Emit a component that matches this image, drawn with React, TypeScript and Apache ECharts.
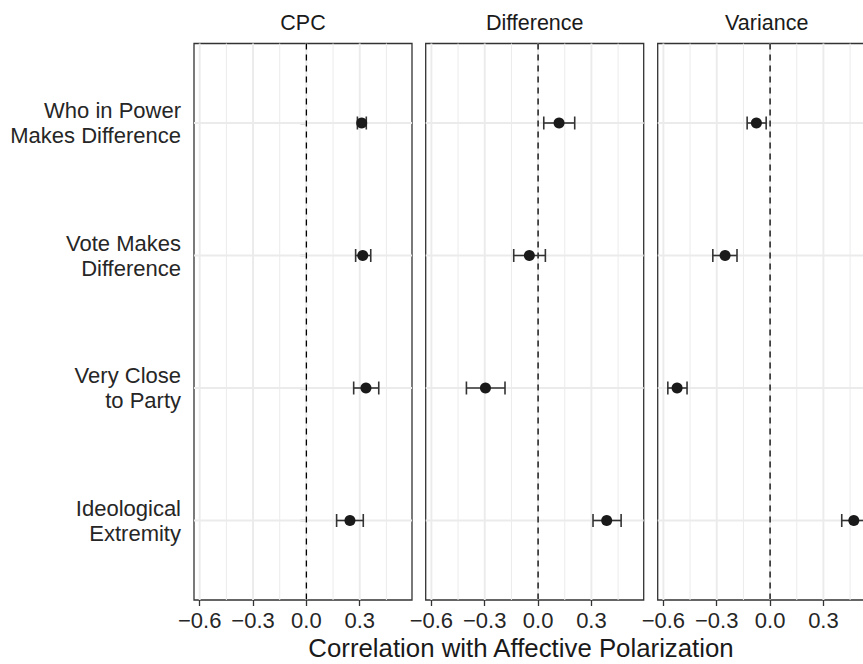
import React, { useEffect, useRef } from "react";
import * as echarts from "echarts";

// ---- data ----
const panels = ["CPC", "Difference", "Variance"];
const categories = [
  "Who in Power\nMakes Difference",
  "Vote Makes\nDifference",
  "Very Close\nto Party",
  "Ideological\nExtremity",
];
const categoryPos = [1, 2, 3, 4];

const cpcEst = [0.311, 0.317, 0.335, 0.245];
const cpcLow = [0.287, 0.277, 0.266, 0.17];
const cpcHigh = [0.337, 0.362, 0.407, 0.32];

const diffEst = [0.118, -0.049, -0.296, 0.386];
const diffLow = [0.032, -0.137, -0.403, 0.309];
const diffHigh = [0.206, 0.041, -0.186, 0.467];

const varEst = [-0.077, -0.253, -0.523, 0.471];
const varLow = [-0.129, -0.322, -0.575, 0.403];
const varHigh = [-0.022, -0.186, -0.467, 0.539];

const xTicks = [-0.6, -0.3, 0, 0.3];
const majorGrid = [-0.6, -0.3, 0, 0.3];
const minorGrid = [-0.45, -0.15, 0.15, 0.45];
const refLine = [0];

const xTitle = "Correlation with Affective Polarization";

const panelData = [
  { est: cpcEst, low: cpcLow, high: cpcHigh },
  { est: diffEst, low: diffLow, high: diffHigh },
  { est: varEst, low: varLow, high: varHigh },
];

// ---- layout ----
const X_MIN = -0.632;
const X_MAX = 0.594;
const Y_MIN = 0.4;
const Y_MAX = 4.6;
const panelLefts = [194, 425.7, 657.7];
const PANEL_W = 218;
const PANEL_TOP = 43.5;
const PANEL_H = 556.5;
const FONT = "'Liberation Sans', Arial, Helvetica, sans-serif";

const fmt = (v: number) => {
  const s = Math.abs(v).toFixed(1);
  return v < -1e-9 ? "\u2212" + s : s;
};

export default function App() {
  const ref = useRef<HTMLDivElement>(null);

  useEffect(() => {
    document.body.style.margin = "0";
    if (!ref.current) return;
    const chart = echarts.init(ref.current, undefined, { renderer: "svg" });

    const grids: any[] = [];
    const xAxes: any[] = [];
    const yAxes: any[] = [];
    const series: any[] = [];
    const graphics: any[] = [];

    panels.forEach((name, i) => {
      grids.push({
        left: panelLefts[i],
        top: PANEL_TOP,
        width: PANEL_W,
        height: PANEL_H,
        containLabel: false,
        outerBoundsMode: "none",
        show: true,
        backgroundColor: "#ffffff",
        borderColor: "#333333",
        borderWidth: 1.3,
      });
      xAxes.push({
        type: "value",
        gridIndex: i,
        min: X_MIN,
        max: X_MAX,
        axisLine: { show: false },
        splitLine: { show: false },
        axisTick: {
          show: true,
          customValues: xTicks,
          length: 6,
          lineStyle: { color: "#333333", width: 1.3 },
        },
        axisLabel: {
          show: true,
          customValues: xTicks,
          formatter: (v: number) => fmt(v),
          margin: 9,
          fontSize: 22,
          fontFamily: FONT,
          color: "#262626",
        },
      });
      yAxes.push({
        type: "value",
        gridIndex: i,
        min: Y_MIN,
        max: Y_MAX,
        inverse: true,
        axisLine: { show: false },
        splitLine: { show: false },
        axisTick: {
          show: i === 0,
          customValues: categoryPos,
          length: 6,
          lineStyle: { color: "#333333", width: 1.3 },
        },
        axisLabel: {
          show: i === 0,
          customValues: categoryPos,
          formatter: (v: number) => categories[Math.round(v) - 1] ?? "",
          margin: 13,
          fontSize: 22,
          lineHeight: 25,
          align: "right",
          fontFamily: FONT,
          color: "#262626",
        },
      });

      const vLine = (width: number, color: string, dash?: number[]) =>
        (params: any, api: any) => {
          const v = api.value(0);
          const a = api.coord([v, Y_MIN]);
          const b = api.coord([v, Y_MAX]);
          return {
            type: "line",
            shape: { x1: a[0], y1: a[1], x2: b[0], y2: b[1] },
            style: { stroke: color, lineWidth: width, lineDash: dash },
          };
        };

      series.push({
        type: "custom",
        name: "minorGrid" + i,
        xAxisIndex: i,
        yAxisIndex: i,
        z: 1,
        silent: true,
        clip: false,
        renderItem: vLine(1, "#ebebeb"),
        data: minorGrid.map((v) => [v, 2.5]),
      });
      series.push({
        type: "custom",
        name: "majorGrid" + i,
        xAxisIndex: i,
        yAxisIndex: i,
        z: 1,
        silent: true,
        clip: false,
        renderItem: vLine(1.9, "#ebebeb"),
        data: majorGrid.map((v) => [v, 2.5]),
      });
      series.push({
        type: "custom",
        name: "hGrid" + i,
        xAxisIndex: i,
        yAxisIndex: i,
        z: 1,
        silent: true,
        clip: false,
        renderItem: (params: any, api: any) => {
          const y = api.value(1);
          const a = api.coord([X_MIN, y]);
          const b = api.coord([X_MAX, y]);
          return {
            type: "line",
            shape: { x1: a[0], y1: a[1], x2: b[0], y2: b[1] },
            style: { stroke: "#ebebeb", lineWidth: 1.9 },
          };
        },
        data: categoryPos.map((c) => [0, c]),
      });
      series.push({
        type: "custom",
        name: "zero" + i,
        xAxisIndex: i,
        yAxisIndex: i,
        z: 2,
        silent: true,
        clip: false,
        renderItem: vLine(1.3, "#000000", [6, 5]),
        data: refLine.map((v) => [v, 2.5]),
      });

      const d = panelData[i];
      series.push({
        type: "custom",
        name: "ci" + i,
        xAxisIndex: i,
        yAxisIndex: i,
        z: 3,
        silent: true,
        encode: { x: [0, 2], y: 1 },
        renderItem: (params: any, api: any) => {
          const lo = api.value(0);
          const y = api.value(1);
          const hi = api.value(2);
          const p1 = api.coord([lo, y]);
          const p2 = api.coord([hi, y]);
          const h = 6.5;
          const st = { stroke: "#333333", lineWidth: 1.6 };
          return {
            type: "group",
            children: [
              { type: "line", shape: { x1: p1[0], y1: p1[1], x2: p2[0], y2: p2[1] }, style: st },
              { type: "line", shape: { x1: p1[0], y1: p1[1] - h, x2: p1[0], y2: p1[1] + h }, style: st },
              { type: "line", shape: { x1: p2[0], y1: p2[1] - h, x2: p2[0], y2: p2[1] + h }, style: st },
            ],
          };
        },
        data: categoryPos.map((c, k) => [d.low[k], c, d.high[k]]),
      });
      series.push({
        type: "scatter",
        name: "est" + i,
        xAxisIndex: i,
        yAxisIndex: i,
        z: 4,
        silent: true,
        symbol: "circle",
        symbolSize: 11,
        itemStyle: { color: "#1a1a1a", opacity: 1 },
        data: categoryPos.map((c, k) => [d.est[k], c]),
      });

      graphics.push({
        type: "text",
        x: panelLefts[i] + PANEL_W / 2,
        y: 22.7,
        style: {
          text: name,
          textAlign: "center",
          textVerticalAlign: "middle",
          fontSize: 21.5,
          fontFamily: FONT,
          fill: "#1a1a1a",
        },
      });
    });

    graphics.push({
      type: "text",
      x: 521,
      y: 648,
      style: {
        text: xTitle,
        textAlign: "center",
        textVerticalAlign: "middle",
        fontSize: 25.8,
        fontFamily: FONT,
        fill: "#1a1a1a",
      },
    });

    chart.setOption({
      animation: false,
      backgroundColor: "#ffffff",
      grid: grids,
      xAxis: xAxes,
      yAxis: yAxes,
      series,
      graphic: graphics,
    });

    return () => chart.dispose();
  }, []);

  return (
    <div
      ref={ref}
      style={{ position: "absolute", left: 0, top: 0, width: 863, height: 664 }}
    />
  );
}
